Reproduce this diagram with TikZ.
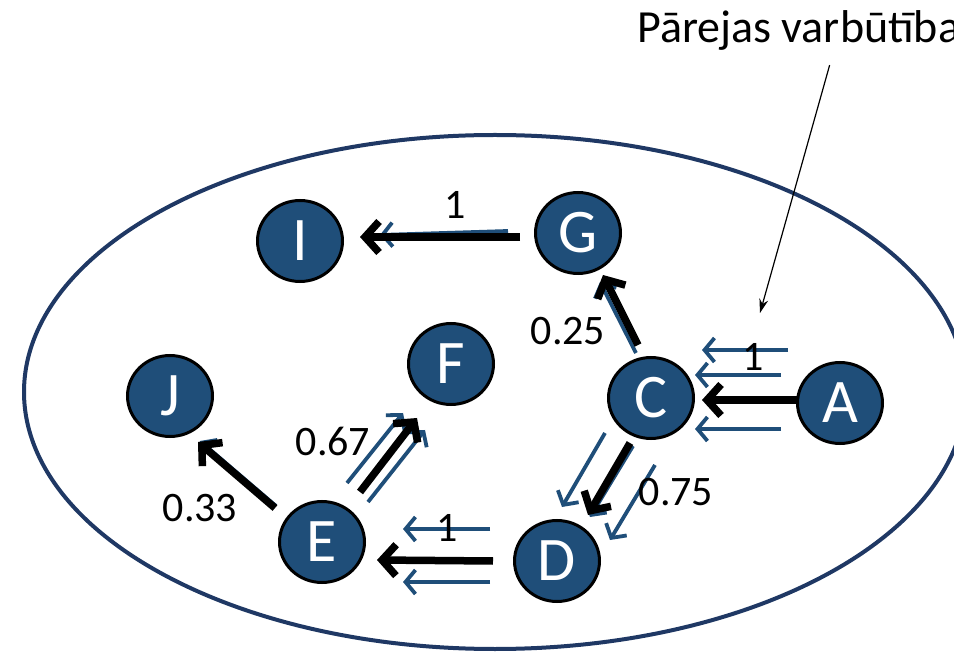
\documentclass[tikz,border=0pt]{standalone}
\usepackage{fontspec}
\setmainfont{Carlito}
\usetikzlibrary{shapes.geometric, arrows.meta, positioning, calc}
\definecolor{statecolor}{RGB}{31,78,121}
\definecolor{ringcolor}{RGB}{31,56,100}

\begin{document}
\begin{tikzpicture}[
    x=1pt, y=-1pt,
    state/.style={ellipse, draw=black, line width=3pt, fill=statecolor, minimum width=85pt, minimum height=81pt, inner sep=0pt, text=white, font=\fontsize{62}{62}\selectfont},
    bigarrow/.style={-{Straight Barb[length=14pt, width=31pt]}, line width=7.5pt, draw=black},
    flow/.style={-{Straight Barb[length=10pt, width=24pt]}, line width=3.8pt, draw=statecolor},
    prob/.style={font=\fontsize{42}{42}\selectfont, inner sep=0pt},
    note/.style={-{Stealth[length=14pt, width=9pt]}, line width=1.2pt}
]
    \useasboundingbox (0,0) rectangle (954,652);

    % Outer set
    \draw[ringcolor, line width=4pt] (495,392) ellipse [x radius=471pt, y radius=257pt];

    % States
    \node[state] (A) at (840,403) {A};
    \node[state] (C) at (651,398) {C};
    \node[state] (G) at (578,233) {G};
    \node[state] (I) at (300,241) {I};
    \node[state] (F) at (451,364) {F};
    \node[state] (J) at (170,396) {J};
    \node[state] (E) at (322,542) {E};
    \node[state] (D) at (557,561) {D};

    % Caption
    \node[font=\fontsize{46}{46}\selectfont, anchor=base west, inner sep=0pt] (title) at (637,43) {Pārejas varbūtība};
    \coordinate (tip) at (760,313);
    \draw[note] ($(title.south)+(31,14)$) -- (tip);

    % Flows
    \draw[flow] ($(G)+(-70,-2)$) -- ($(I)+(80,-6)$);
    \draw[flow] ($(C)+(-15,-45)$) -- ($(G)+(22,49)$);
    \draw[flow] ($(A)+(-52,-53)$) -- ($(C)+(51,-48)$);
    \draw[flow] ($(A)+(-59,-28)$) -- ($(C)+(44,-23)$);
    \draw[flow] ($(A)+(-59,26)$) -- ($(C)+(44,31)$);
    \draw[flow] ($(C)+(-46,35)$) -- ($(D)+(5,-54)$);
    \draw[flow] ($(C)+(-18,48)$) -- ($(D)+(33,-44)$);
    \draw[flow] ($(C)+(4,67)$) -- ($(D)+(53,-21)$);
    \draw[flow] ($(D)+(-67,-32)$) -- ($(E)+(81,-13)$);
    \draw[flow] ($(D)+(-67,21)$) -- ($(E)+(81,40)$);
    \draw[flow] ($(E)+(25,-59)$) -- ($(F)+(-48,49)$);
    \draw[flow] ($(E)+(46,-40)$) -- ($(F)+(-26,66)$);
    \draw[flow] ($(E)+(-46,-36)$) -- ($(J)+(30,45)$);

    % Transitions
    \draw[bigarrow] ($(G)+(-58,4)$) -- ($(I)+(60,-4)$);
    \draw[bigarrow] ($(C)+(-13,-53)$) -- ($(G)+(25,42)$);
    \draw[bigarrow] ($(A)+(-42,-3)$) -- ($(C)+(51,2)$);
    \draw[bigarrow] ($(C)+(-21,45)$) -- ($(D)+(31,-46)$);
    \draw[bigarrow] ($(D)+(-64,0)$) -- ($(E)+(55,18)$);
    \draw[bigarrow] ($(E)+(38,-50)$) -- ($(F)+(-34,54)$);
    \draw[bigarrow] ($(E)+(-47,-34)$) -- ($(J)+(28,46)$);

    % Probabilities
    \node[prob] (pGI) at (455,205) {1};
    \node[prob] (pCG) at (568,331) {0.25};
    \node[prob] (pAC) at (753,357) {1};
    \node[prob] (pCD) at (676,492) {0.75};
    \node[prob] (pDE) at (447,528) {1};
    \node[prob] (pEF) at (333,441) {0.67};
    \node[prob] (pEJ) at (200,508) {0.33};

\end{tikzpicture}
\end{document}
